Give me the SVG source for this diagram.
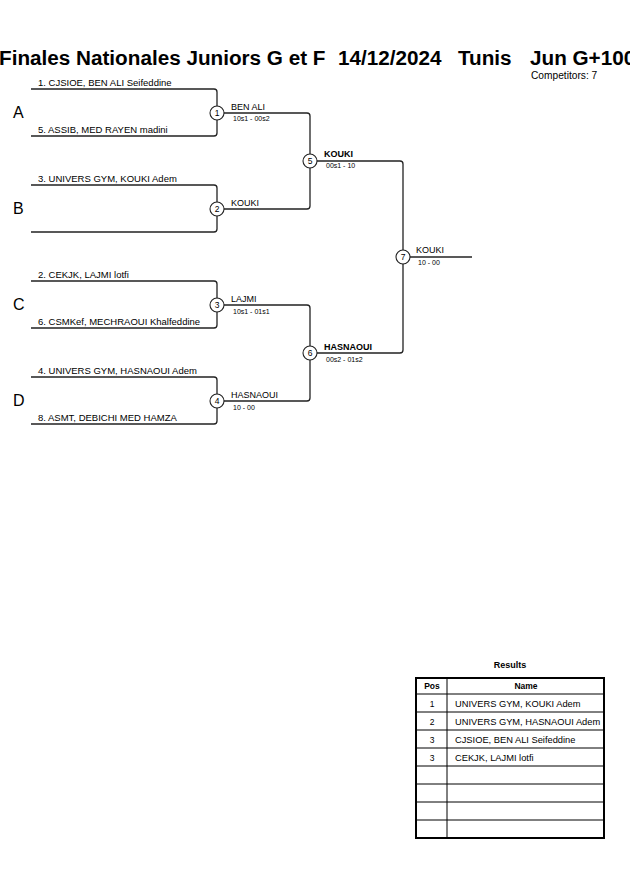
<svg xmlns="http://www.w3.org/2000/svg" width="630" height="891" viewBox="0 0 630 891">
<style>
text{font-family:"Liberation Sans",Arial,sans-serif;fill:#000}
.t{font-size:20.7px;font-weight:bold}
.e{font-size:9.5px}
.w{font-size:9px}
.wb{font-size:9px;font-weight:bold}
.s{font-size:7px}
.n{font-size:8.5px;text-anchor:middle}
.g{font-size:16px}
.ln{fill:none;stroke:#222;stroke-width:1.3}
.c{fill:#fff;stroke:#222;stroke-width:1.1}
.tb{fill:none;stroke:#000;stroke-width:1}
</style>
<rect width="630" height="891" fill="#fff"/>
<text class="t" y="65"><tspan x="-1">Finales Nationales Juniors G et F</tspan><tspan x="338">14/12/2024</tspan><tspan x="458">Tunis</tspan><tspan x="530">Jun G+100</tspan></text>
<text x="531" y="79" style="font-size:10.2px">Competitors: 7</text>

<g id="connectors">
<path class="ln" d="M31,89H214q3,0 3,3V133q0,3 -3,3H31"/>
<path class="ln" d="M31,185H214q3,0 3,3V229q0,3 -3,3H31"/>
<path class="ln" d="M31,281H214q3,0 3,3V325q0,3 -3,3H31"/>
<path class="ln" d="M31,377H214q3,0 3,3V421q0,3 -3,3H31"/>
<path class="ln" d="M224,113H307q3,0 3,3V161"/>
<path class="ln" d="M224,209H307q3,0 3,-3V161"/>
<path class="ln" d="M224,305H307q3,0 3,3V353"/>
<path class="ln" d="M224,401H307q3,0 3,-3V353"/>
<path class="ln" d="M317,161H400q3,0 3,3V257"/>
<path class="ln" d="M317,353H400q3,0 3,-3V257"/>
<path class="ln" d="M410,257H472"/>
</g>

<g id="pool-labels">
<text class="g" x="13" y="118">A</text>
<text class="g" x="13" y="214">B</text>
<text class="g" x="13" y="310">C</text>
<text class="g" x="13" y="406">D</text>
</g>

<g id="entries">
<text class="e" x="38" y="86">1. CJSIOE, BEN ALI Seifeddine</text>
<text class="e" x="38" y="133">5. ASSIB, MED RAYEN madini</text>
<text class="e" x="38" y="182">3. UNIVERS GYM, KOUKI Adem</text>
<text class="e" x="38" y="278">2. CEKJK, LAJMI lotfi</text>
<text class="e" x="38" y="325">6. CSMKef, MECHRAOUI Khalfeddine</text>
<text class="e" x="38" y="374">4. UNIVERS GYM, HASNAOUI Adem</text>
<text class="e" x="38" y="421">8. ASMT, DEBICHI MED HAMZA</text>
</g>

<g id="match1">
<circle class="c" cx="217" cy="113" r="7"/>
<text class="n" x="217" y="116">1</text>
<text class="w" x="231" y="110">BEN ALI</text>
<text class="s" x="233" y="121">10s1 - 00s2</text>
</g>
<g id="match2">
<circle class="c" cx="217" cy="209" r="7"/>
<text class="n" x="217" y="212">2</text>
<text class="w" x="231" y="206">KOUKI</text>
</g>
<g id="match3">
<circle class="c" cx="217" cy="305" r="7"/>
<text class="n" x="217" y="308">3</text>
<text class="w" x="231" y="302">LAJMI</text>
<text class="s" x="233" y="314">10s1 - 01s1</text>
</g>
<g id="match4">
<circle class="c" cx="217" cy="401" r="7"/>
<text class="n" x="217" y="404">4</text>
<text class="w" x="231" y="398">HASNAOUI</text>
<text class="s" x="233" y="410">10 - 00</text>
</g>
<g id="match5">
<circle class="c" cx="310" cy="161" r="7"/>
<text class="n" x="310" y="164">5</text>
<text class="wb" x="324" y="157">KOUKI</text>
<text class="s" x="326" y="168">00s1 - 10</text>
</g>
<g id="match6">
<circle class="c" cx="310" cy="353" r="7"/>
<text class="n" x="310" y="356">6</text>
<text class="wb" x="324" y="350">HASNAOUI</text>
<text class="s" x="326" y="362">00s2 - 01s2</text>
</g>
<g id="match7">
<circle class="c" cx="403" cy="257" r="7"/>
<text class="n" x="403" y="260">7</text>
<text class="w" x="416" y="253">KOUKI</text>
<text class="s" x="418" y="265">10 - 00</text>
</g>

<g id="results">
<text x="510" y="668" style="font-size:9px;font-weight:bold;text-anchor:middle">Results</text>
<rect x="416" y="678" width="188" height="160" fill="none" stroke="#000" stroke-width="2"/>
<path class="tb" d="M416,694H604M416,712H604M416,730H604M416,748H604M416,766H604M416,784H604M416,802H604M416,820H604M447,678V838"/>
<text x="432" y="689" style="font-size:8.5px;font-weight:bold;text-anchor:middle">Pos</text>
<text x="526" y="689" style="font-size:8.5px;font-weight:bold;text-anchor:middle">Name</text>
<text x="432" y="707" style="font-size:8.5px;text-anchor:middle">1</text>
<text x="432" y="725" style="font-size:8.5px;text-anchor:middle">2</text>
<text x="432" y="743" style="font-size:8.5px;text-anchor:middle">3</text>
<text x="432" y="761" style="font-size:8.5px;text-anchor:middle">3</text>
<text x="455" y="707" style="font-size:9.3px">UNIVERS GYM, KOUKI Adem</text>
<text x="455" y="725" style="font-size:9.3px">UNIVERS GYM, HASNAOUI Adem</text>
<text x="455" y="743" style="font-size:9.3px">CJSIOE, BEN ALI Seifeddine</text>
<text x="455" y="761" style="font-size:9.3px">CEKJK, LAJMI lotfi</text>
</g>
</svg>
